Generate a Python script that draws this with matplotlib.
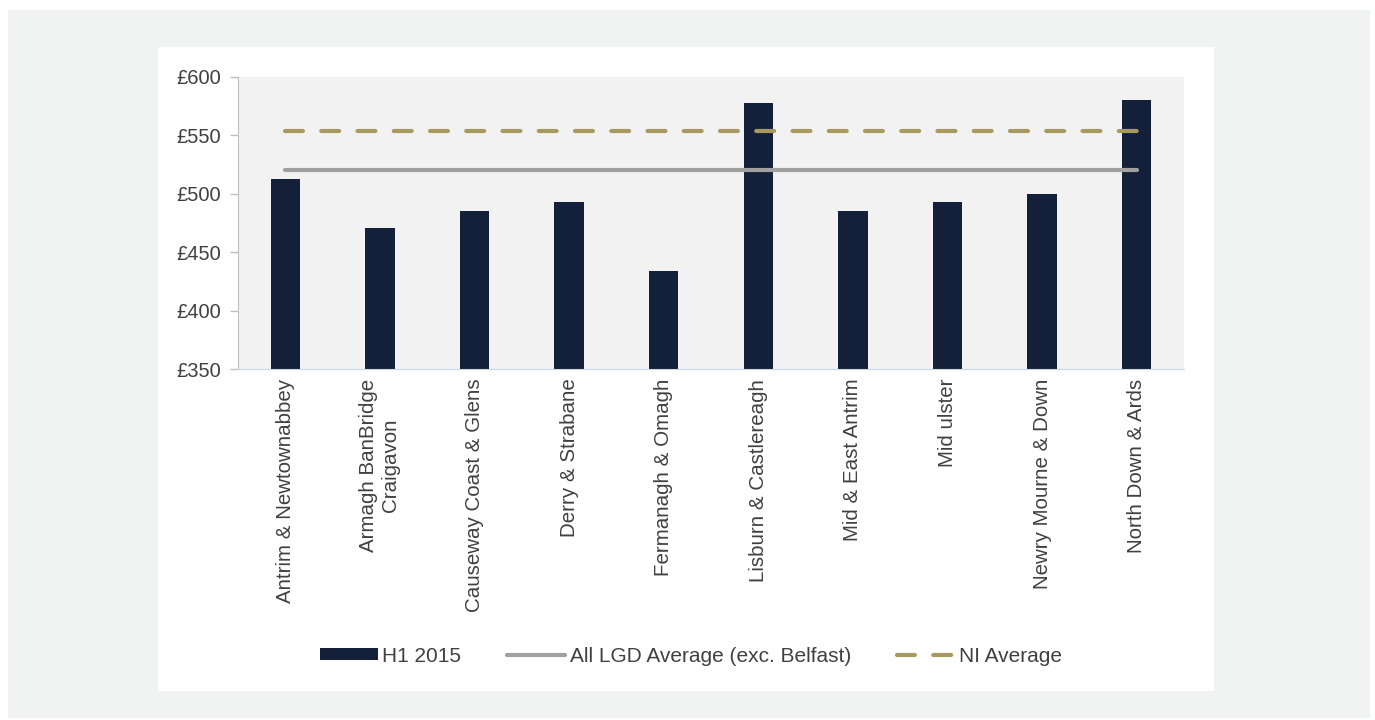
import numpy as np
import matplotlib
matplotlib.use("Agg")
import matplotlib.pyplot as plt
from matplotlib.patches import Rectangle

plt.rcParams['font.family'] = ['Liberation Sans', 'DejaVu Sans']

regions = ['Antrim & Newtownabbey', 'Armagh BanBridge\nCraigavon', 'Causeway Coast & Glens',
           'Derry & Strabane', 'Fermanagh & Omagh', 'Lisburn & Castlereagh',
           'Mid & East Antrim', 'Mid ulster', 'Newry Mourne & Down', 'North Down & Ards']
h1_2015 = [513, 471, 485, 493, 434, 578, 485, 493, 500, 580]
lgd_avg = 520
ni_avg = 554
yticks = [350, 400, 450, 500, 550, 600]

txt = '#404040'
W, H = 1375, 720
fig = plt.figure(figsize=(W / 100, H / 100), dpi=100, facecolor='white')

# page background and white chart panel
fig.patches.append(Rectangle((8 / W, 2 / H), 1362 / W, 708 / H, transform=fig.transFigure,
                             facecolor='#f1f2f2', edgecolor='none', zorder=-2))
fig.patches.append(Rectangle((158 / W, (H - 691) / H), 1056 / W, 644 / H, transform=fig.transFigure,
                             facecolor='white', edgecolor='none', zorder=-1))

ax = fig.add_axes([238 / W, (H - 369) / H, 946 / W, 292 / H])
ax.set_facecolor('#f2f2f2')

x = np.arange(len(regions))
bars = ax.bar(x, h1_2015, width=0.31, color='#14203a', zorder=2, label='H1 2015')
l1, = ax.plot([x[0], x[-1]], [lgd_avg, lgd_avg], color='#a0a0a0', lw=3, solid_capstyle='round',
              zorder=3, label='All LGD Average (exc. Belfast)')
l2, = ax.plot([x[0], x[-1]], [ni_avg, ni_avg], color='#a89a5f', lw=3, dashes=(4.3, 4.4),
              dash_capstyle='round', zorder=3, label='NI Average')

ax.set_xlim(-0.5, len(regions) - 0.5)
ax.set_ylim(350, 600)
ax.set_yticks(yticks)
ax.set_yticklabels(['£%d' % v for v in yticks], fontsize=14.5, color=txt)
ax.set_xticks(x)
ax.set_xticklabels(regions, rotation=90, fontsize=14.8, color=txt, ha='center', va='top',
                   multialignment='center')
ax.tick_params(axis='y', length=6, width=1, color='#bfbfbf', pad=6)
ax.tick_params(axis='x', length=0, pad=7)
for s in ['top', 'right']:
    ax.spines[s].set_visible(False)
ax.spines['left'].set_color('#bfbfbf')
ax.spines['bottom'].set_color('#c9d6e8')

fig.legend(handles=[bars, l1, l2], loc='center', bbox_to_anchor=(691 / W, (H - 656) / H),
           ncol=3, frameon=False, fontsize=15, handlelength=2.8, handleheight=0.5,
           handletextpad=0.2, columnspacing=2.2, labelcolor=txt)

fig.savefig('out.png', dpi=100, facecolor=fig.get_facecolor())
